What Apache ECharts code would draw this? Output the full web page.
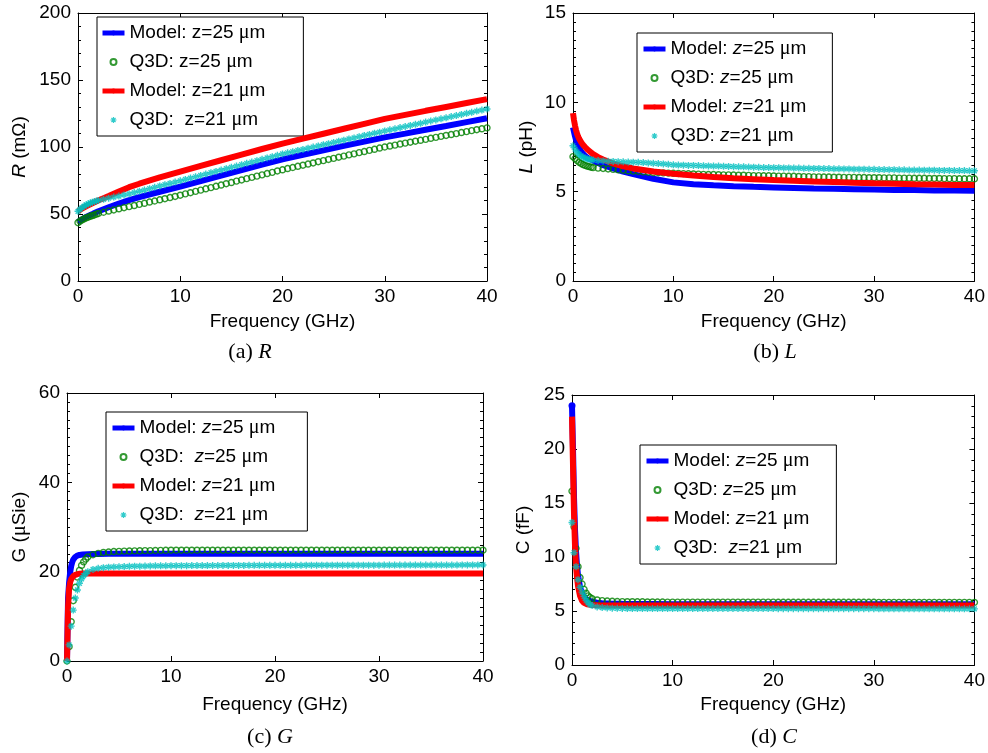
<!DOCTYPE html>
<html>
<head>
<meta charset="utf-8">
<script src="https://cdn.jsdelivr.net/npm/echarts@6/dist/echarts.min.js"></script>
<style>
  html, body { margin: 0; padding: 0; background: #fff; }
  #chart { width: 988px; height: 753px; }
</style>
</head>
<body>
<div id="chart"></div>
<script>
// ---- Frequency samples (GHz) ----
const freqModel = [0,0.1,0.2,0.3,0.4,0.5,0.6,0.8,1,1.2,1.5,2,2.5,3,4,5,6,8,10,12,14,16,18,20,22,24,26,28,30,32,34,36,38,40];
const freqQ3D = [0,0.2,0.4,0.6,0.8,1,1.2,1.4,1.6,1.8,2,
  2.5,3,3.5,4,4.5,5,5.5,6,6.5,7,7.5,8,8.5,9,9.5,10,
  10.5,11,11.5,12,12.5,13,13.5,14,14.5,15,15.5,16,16.5,17,17.5,18,18.5,19,19.5,20,
  20.5,21,21.5,22,22.5,23,23.5,24,24.5,25,25.5,26,26.5,27,27.5,28,28.5,29,29.5,30,
  30.5,31,31.5,32,32.5,33,33.5,34,34.5,35,35.5,36,36.5,37,37.5,38,38.5,39,39.5,40];

// ---- (a) R in mOhm ----
const rModel25 = [44,44.6,45.1,45.6,46.1,46.5,47,47.8,48.5,49.2,50.3,52,53.5,55,57.8,60.3,62.6,66.6,70.4,74.5,78.6,82.7,86.8,90.8,94.2,97.5,100.8,104,107.2,110,112.9,115.7,118.6,121.4];
const rModel21 = [52,52.6,53.1,53.6,54.1,54.5,55,55.8,56.5,57.2,58.3,60.2,61.8,63.4,66.8,70,72.6,77.3,81.6,85.9,90.1,94.3,98.5,102.5,106.2,109.9,113.6,117.3,121,124,127,129.9,132.8,135.7];
const rQ3D25 = [43.5,44.6,45.6,46.4,47.1,47.7,48.3,48.8,49.3,49.9,50.4,
  51.3,52.2,53,53.9,54.7,55.5,56.3,57.2,58,58.9,59.7,60.6,61.4,62.3,63.1,64,
  65,65.9,66.9,67.8,68.8,69.7,70.7,71.6,72.6,73.5,74.5,75.4,76.4,77.3,78.3,79.2,80.2,81.1,82.1,83,
  83.9,84.7,85.6,86.4,87.3,88.1,89,89.8,90.7,91.5,92.4,93.2,94.1,94.9,95.8,96.6,97.5,98.3,99.2,100,
  100.7,101.4,102.2,102.9,103.6,104.3,105,105.7,106.5,107.2,107.9,108.6,109.3,110,110.8,111.5,112.2,112.9,113.6,114.3];
const rQ3D21 = [52,53.5,54.8,55.9,56.8,57.6,58.2,58.8,59.3,59.7,60.1,
  61,61.8,62.6,63.4,64.2,65,66,67,67.9,68.9,69.9,70.9,71.9,72.8,73.8,74.8,
  75.8,76.8,77.8,78.8,79.8,80.8,81.8,82.8,83.8,84.8,85.8,86.8,87.8,88.8,89.8,90.8,91.8,92.8,93.8,94.8,
  95.7,96.5,97.4,98.2,99.1,100,100.8,101.7,102.5,103.4,104.3,105.1,106,106.8,107.7,108.6,109.4,110.3,111.1,112,
  112.8,113.6,114.5,115.3,116.1,116.9,117.7,118.6,119.4,120.2,121,121.8,122.7,123.5,124.3,125.1,125.9,126.8,127.6,128.4];

// ---- (b) L in pH ----
const lModel25 = [8.6,8.35,8.1,7.9,7.72,7.58,7.46,7.26,7.12,7,6.88,6.74,6.6,6.48,6.3,6.12,5.98,5.72,5.52,5.42,5.36,5.31,5.27,5.24,5.21,5.18,5.16,5.14,5.12,5.1,5.09,5.07,5.06,5.05];
const lModel21 = [9.4,9.0,8.7,8.45,8.25,8.1,7.98,7.78,7.62,7.5,7.33,7.1,6.93,6.8,6.58,6.42,6.3,6.13,6,5.9,5.82,5.75,5.7,5.65,5.61,5.57,5.54,5.5,5.47,5.45,5.42,5.4,5.38,5.37];
const lQ3D25 = [6.96,6.85,6.75,6.65,6.58,6.52,6.47,6.43,6.4,6.37,6.35,
  6.32,6.3,6.27,6.25,6.22,6.2,6.17,6.15,6.13,6.11,6.09,6.07,6.06,6.05,6.04,6.03,
  6.02,6.01,6,5.99,5.98,5.97,5.96,5.96,5.95,5.94,5.94,5.93,5.92,5.92,5.91,5.9,5.9,5.89,5.89,5.88,
  5.87,5.87,5.86,5.86,5.85,5.84,5.84,5.83,5.83,5.82,5.82,5.81,5.81,5.8,5.8,5.8,5.79,5.79,5.78,5.78,
  5.78,5.77,5.77,5.77,5.76,5.76,5.76,5.75,5.75,5.75,5.74,5.74,5.74,5.73,5.73,5.73,5.72,5.72,5.72,5.72];
const lQ3D21 = [7.57,7.38,7.22,7.1,7,6.93,6.88,6.84,6.81,6.79,6.77,
  6.74,6.72,6.7,6.69,6.68,6.67,6.66,6.65,6.64,6.63,6.61,6.59,6.57,6.55,6.53,6.5,
  6.49,6.48,6.47,6.47,6.46,6.45,6.44,6.43,6.43,6.42,6.41,6.4,6.39,6.39,6.38,6.37,6.36,6.35,6.35,6.34,
  6.34,6.33,6.33,6.32,6.32,6.31,6.31,6.3,6.3,6.29,6.29,6.28,6.28,6.27,6.27,6.26,6.26,6.26,6.25,6.25,
  6.24,6.24,6.23,6.23,6.22,6.22,6.21,6.21,6.21,6.2,6.2,6.2,6.19,6.19,6.19,6.18,6.18,6.18,6.17,6.17];

// ---- (c) G in uS ----
const gModel25 = [0,14,17.5,19.8,21.2,22.1,22.7,23.3,23.6,23.75,23.85,23.92,23.95,23.97,24,24,24,24,24,24,24,24,24,24,24,24,24,24,24,24,24,24,24,24];
const gModel21 = [0,12,16.2,17.6,18.3,18.7,19,19.3,19.45,19.52,19.57,19.6,19.6,19.6,19.6,19.6,19.6,19.6,19.6,19.6,19.6,19.6,19.6,19.6,19.6,19.6,19.6,19.6,19.6,19.6,19.6,19.6,19.6,19.6];
const gQ3D25 = [0,3.2,8.8,13.5,16.5,18.8,20.3,21.4,22.2,22.8,23.3,
  23.8,24.1,24.3,24.4,24.5,24.55,24.6,24.62,24.65,24.67,24.7,24.72,24.74,24.76,24.78,24.8,
  24.8,24.8,24.8,24.8,24.8,24.8,24.8,24.8,24.8,24.8,24.8,24.8,24.8,24.8,24.8,24.8,24.8,24.8,24.8,24.8,
  24.8,24.8,24.8,24.8,24.8,24.8,24.8,24.8,24.8,24.8,24.8,24.8,24.8,24.8,24.8,24.8,24.8,24.8,24.8,24.8,
  24.8,24.8,24.8,24.8,24.8,24.8,24.8,24.8,24.8,24.8,24.8,24.8,24.8,24.8,24.8,24.8,24.8,24.8,24.8,24.8];
const gQ3D21 = [0,3.6,7.8,11.4,14.1,15.9,17.4,18.4,19.1,19.6,20,
  20.5,20.75,20.9,21,21.05,21.1,21.15,21.2,21.22,21.24,21.26,21.28,21.3,21.31,21.32,21.33,
  21.34,21.35,21.35,21.36,21.36,21.37,21.37,21.38,21.38,21.39,21.39,21.4,21.4,21.4,21.41,21.41,21.41,21.42,21.42,21.42,
  21.43,21.43,21.43,21.43,21.43,21.44,21.44,21.44,21.44,21.44,21.45,21.45,21.45,21.45,21.45,21.46,21.46,21.46,21.46,21.46,
  21.47,21.47,21.47,21.47,21.47,21.48,21.48,21.48,21.48,21.48,21.49,21.49,21.49,21.49,21.49,21.5,21.5,21.5,21.5,21.5];

// ---- (d) C in fF ----
const cModel25 = [24,20,15.5,12.5,10.5,9.2,8.3,7.2,6.6,6.3,6.05,5.85,5.76,5.72,5.68,5.66,5.65,5.64,5.63,5.63,5.63,5.63,5.62,5.62,5.62,5.62,5.62,5.62,5.62,5.62,5.62,5.62,5.62,5.62];
const cModel21 = [23,18.5,14,11,9.2,8.1,7.3,6.4,5.95,5.75,5.62,5.56,5.53,5.52,5.51,5.5,5.5,5.5,5.5,5.5,5.5,5.5,5.5,5.5,5.5,5.5,5.5,5.5,5.5,5.5,5.5,5.5,5.5,5.5];
const cQ3D25 = [16.1,12.8,10.8,9.1,8.1,7.5,7,6.65,6.4,6.25,6.15,
  6.02,5.96,5.92,5.9,5.88,5.87,5.86,5.86,5.85,5.85,5.84,5.84,5.83,5.83,5.82,5.82,
  5.82,5.82,5.82,5.82,5.82,5.82,5.82,5.82,5.82,5.82,5.82,5.82,5.82,5.82,5.82,5.82,5.82,5.82,5.82,5.82,
  5.81,5.81,5.81,5.81,5.81,5.81,5.81,5.81,5.81,5.81,5.81,5.81,5.81,5.81,5.81,5.81,5.81,5.81,5.81,5.81,
  5.8,5.8,5.8,5.8,5.8,5.8,5.8,5.8,5.8,5.8,5.8,5.8,5.8,5.8,5.8,5.8,5.8,5.8,5.8,5.8];
const cQ3D21 = [13.2,10.4,9.1,7.9,7.2,6.75,6.35,6,5.75,5.6,5.5,
  5.38,5.32,5.28,5.26,5.25,5.24,5.23,5.23,5.23,5.23,5.23,5.23,5.23,5.23,5.23,5.23,
  5.22,5.22,5.22,5.22,5.22,5.22,5.22,5.22,5.22,5.22,5.22,5.22,5.22,5.22,5.22,5.22,5.22,5.22,5.22,5.22,
  5.21,5.21,5.21,5.21,5.21,5.21,5.21,5.21,5.21,5.21,5.21,5.21,5.21,5.21,5.21,5.21,5.21,5.21,5.21,5.21,
  5.2,5.2,5.2,5.2,5.2,5.2,5.2,5.2,5.2,5.2,5.2,5.2,5.2,5.2,5.2,5.2,5.2,5.2,5.2,5.2];

// ---- Axis ranges [min, max, step] ----
const freqRange = [0, 40, 10];
const rRange = [0, 200, 50];
const lRange = [0, 15, 5];
const gRange = [0, 60, 20];
const cRange = [0, 25, 5];

// ---- Legend entries ----
const legendA = ['Model: z=25 μm', 'Q3D: z=25 μm', 'Model: z=21 μm', 'Q3D:  z=21 μm'];
const legendB = ['Model: z=25 μm', 'Q3D: z=25 μm', 'Model: z=21 μm', 'Q3D: z=21 μm'];
const legendC = ['Model: z=25 μm', 'Q3D:  z=25 μm', 'Model: z=21 μm', 'Q3D:  z=21 μm'];
const legendD = ['Model: z=25 μm', 'Q3D: z=25 μm', 'Model: z=21 μm', 'Q3D:  z=21 μm'];

// ---- Styling ----
const SANS = '"Liberation Sans", Arial, sans-serif';
const SERIF = '"Liberation Serif", "Times New Roman", serif';
const BLUE = '#0000ff', RED = '#ff0000', GREEN = '#008000', CYAN = '#00bfbf';
const STAR = 'path://M4,0H6V10H4Z M0,4H10V6H0Z M0.9,2.3L2.3,0.9L9.1,7.7L7.7,9.1Z M7.7,0.9L9.1,2.3L2.3,9.1L0.9,7.7Z';
const RICH = {
  t: { fontSize: 19, fontFamily: SANS, color: '#000', lineHeight: 20 },
  i: { fontSize: 19, fontFamily: SANS, fontStyle: 'italic', color: '#000', lineHeight: 20 },
  mu: { fontSize: 20, fontFamily: SERIF, color: '#000', lineHeight: 20 }
};

function pairs(xs, ys) { return xs.map((x, k) => [x, ys[k]]); }

// Turn a legend string into rich text: serif mu, optionally italic z
function richLabel(s, italicZ) {
  let out = '', buf = '';
  for (const ch of s) {
    if (ch === 'μ' || (italicZ && ch === 'z')) {
      if (buf) out += '{t|' + buf + '}';
      buf = '';
      out += ch === 'μ' ? '{mu|μ}' : '{i|z}';
    } else buf += ch;
  }
  if (buf) out += '{t|' + buf + '}';
  return out;
}

const panels = [
  { key: 'a', grid: { left: 78, top: 13, width: 409, height: 268 }, range: rRange, minor: 5,
    yName: '{i|R}{t| (mΩ)}', yGap: 48, xGap: 31,
    lg: { left: 97, top: 17, pad: [6, 38, 6, 3] }, labels: legendA, italicZ: false,
    cap: { x: 250, y: 352, text: '{n|(a) }{i|R}' },
    m25: rModel25, q25: rQ3D25, m21: rModel21, q21: rQ3D21, dot: false },
  { key: 'b', grid: { left: 573, top: 13, width: 402, height: 268 }, range: lRange, minor: 10,
    yName: '{i|L}{t| (pH)}', yGap: 36, xGap: 31,
    lg: { left: 637, top: 33, pad: [6, 26, 6, 4] }, labels: legendB, italicZ: true,
    cap: { x: 775, y: 352, text: '{n|(b) }{i|L}' },
    m25: lModel25, q25: lQ3D25, m21: lModel21, q21: lQ3D21, dot: false },
  { key: 'c', grid: { left: 67, top: 393, width: 416, height: 268 }, range: gRange, minor: 10,
    yName: '{t|G (}{mu|μ}{t|Sie)}', yGap: 37, xGap: 34,
    lg: { left: 106, top: 412, pad: [6, 32, 6, 4] }, labels: legendC, italicZ: true,
    cap: { x: 270, y: 737, text: '{n|(c) }{i|G}' },
    m25: gModel25, q25: gQ3D25, m21: gModel21, q21: gQ3D21, dot: false },
  { key: 'd', grid: { left: 572, top: 395, width: 403, height: 270 }, range: cRange, minor: 5,
    yName: '{t|C (fF)}', yGap: 38, xGap: 30,
    lg: { left: 640, top: 445, pad: [6, 27, 6, 4] }, labels: legendD, italicZ: true,
    cap: { x: 774, y: 737, text: '{n|(d) }{i|C}' },
    m25: cModel25, q25: cQ3D25, m21: cModel21, q21: cQ3D21, dot: true }
];

const grid = [], xAxis = [], yAxis = [], series = [], legend = [], graphic = [];
const axLine = { show: true, onZero: false, lineStyle: { color: '#000', width: 1 } };
const tick = { show: true, inside: true, length: 5, lineStyle: { color: '#000', width: 1 } };
const lbl = { show: true, color: '#000', fontSize: 19, fontFamily: SANS, margin: 7 };

panels.forEach((p, i) => {
  grid.push(Object.assign({ containLabel: false }, p.grid));
  const minorTick = { show: true, splitNumber: p.minor, length: 3, lineStyle: { color: '#000', width: 1 } };

  // bottom / top frequency axes
  xAxis.push({ gridIndex: i, type: 'value', position: 'bottom', min: freqRange[0], max: freqRange[1], interval: freqRange[2],
    axisLine: axLine, axisTick: tick, axisLabel: Object.assign({}, lbl, { margin: 6 }), splitLine: { show: false },
    name: 'Frequency (GHz)', nameLocation: 'middle', nameGap: p.xGap,
    nameTextStyle: { color: '#000', fontSize: 19, fontFamily: SANS } });
  xAxis.push({ gridIndex: i, type: 'value', position: 'top', min: freqRange[0], max: freqRange[1], interval: freqRange[2],
    axisLine: axLine, axisTick: tick, axisLabel: { show: false }, splitLine: { show: false } });

  // left / right value axes
  yAxis.push({ gridIndex: i, type: 'value', position: 'left', min: p.range[0], max: p.range[1], interval: p.range[2],
    axisLine: axLine, axisTick: tick, minorTick: minorTick, axisLabel: lbl, splitLine: { show: false },
    name: p.yName, nameLocation: 'middle', nameGap: p.yGap,
    nameTextStyle: { color: '#000', fontSize: 19, fontFamily: SANS, rich: RICH } });
  yAxis.push({ gridIndex: i, type: 'value', position: 'right', min: p.range[0], max: p.range[1], interval: p.range[2],
    axisLine: axLine, axisTick: tick, minorTick: minorTick, axisLabel: { show: false }, splitLine: { show: false } });

  const names = [p.key + '-m25', p.key + '-q25', p.key + '-m21', p.key + '-q21'];
  const ax = { xAxisIndex: 2 * i, yAxisIndex: 2 * i };

  // Model z=25: thick blue line (panel d marks its first sample with a dot)
  let m25data = pairs(freqModel, p.m25);
  if (p.dot) m25data = m25data.map((d, k) => k === 0 ? { value: d } : { value: d, symbol: 'none' });
  series.push(Object.assign({ type: 'line', name: names[0], data: m25data,
    symbol: p.dot ? 'circle' : 'none', symbolSize: 7, showSymbol: p.dot, showAllSymbol: true,
    lineStyle: { color: BLUE, width: 6 }, itemStyle: { color: BLUE }, z: 2 }, ax));
  // Q3D z=25: open green circles
  series.push(Object.assign({ type: 'scatter', name: names[1], data: pairs(freqQ3D, p.q25),
    symbol: 'circle', symbolSize: 6,
    itemStyle: { color: 'rgba(255,255,255,0)', borderColor: GREEN, borderWidth: 1.4 }, z: 3 }, ax));
  // Model z=21: thick red line
  series.push(Object.assign({ type: 'line', name: names[2], data: pairs(freqModel, p.m21),
    symbol: 'none', showSymbol: false,
    lineStyle: { color: RED, width: 6 }, itemStyle: { color: RED }, z: 4 }, ax));
  // Q3D z=21: cyan asterisks
  series.push(Object.assign({ type: 'scatter', name: names[3], data: pairs(freqQ3D, p.q21),
    symbol: STAR, symbolSize: 7, itemStyle: { color: CYAN }, z: 5 }, ax));

  const labelOf = {};
  names.forEach((n, k) => { labelOf[n] = p.labels[k]; });
  legend.push({
    show: true, orient: 'vertical', left: p.lg.left, top: p.lg.top, padding: p.lg.pad,
    itemWidth: 22, itemHeight: 6, itemGap: 9,
    borderColor: '#000', borderWidth: 1, borderRadius: 0, backgroundColor: '#fff',
    selectedMode: false, data: names,
    formatter: (n) => richLabel(labelOf[n], p.italicZ),
    textStyle: { color: '#000', fontSize: 19, fontFamily: SANS, lineHeight: 20, rich: RICH },
    lineStyle: { width: 5 }
  });

  graphic.push({ type: 'text', x: p.cap.x, y: p.cap.y, silent: true,
    style: { text: p.cap.text, align: 'center', verticalAlign: 'middle',
      rich: {
        n: { fontSize: 22, fontFamily: SERIF, fill: '#000' },
        i: { fontSize: 22, fontFamily: SERIF, fontStyle: 'italic', fill: '#000' }
      } } });
});

const chart = echarts.init(document.getElementById('chart'), null, { renderer: 'canvas' });
chart.setOption({
  animation: false,
  backgroundColor: '#fff',
  grid, xAxis, yAxis, series, legend, graphic
});
</script>
</body>
</html>
